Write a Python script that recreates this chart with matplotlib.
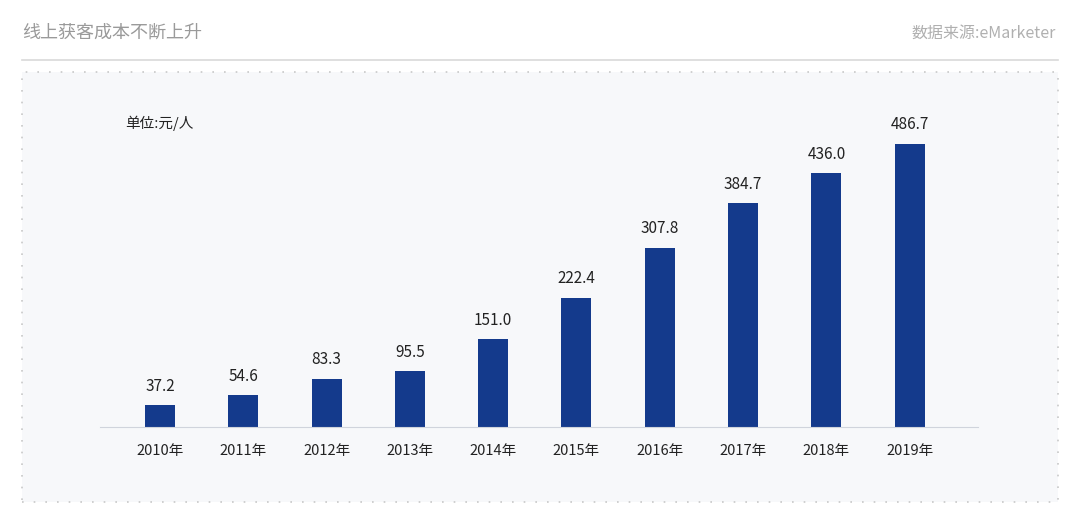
import matplotlib.pyplot as plt
from matplotlib.patches import Rectangle

plt.rcParams["font.family"] = ["Noto Sans CJK SC", "Noto Sans CJK JP",
                               "Noto Sans CJK TC", "DejaVu Sans"]

years = ["2010年", "2011年", "2012年", "2013年", "2014年",
         "2015年", "2016年", "2017年", "2018年", "2019年"]
cost = [37.2, 54.6, 83.3, 95.5, 151.0, 222.4, 307.8, 384.7, 436.0, 486.7]

W, H = 1080, 532
fig = plt.figure(figsize=(W / 100, H / 100), dpi=100)
fig.patch.set_facecolor("white")

# panel background with dotted border
panel = Rectangle((22 / W, 1 - 502 / H), (1058 - 22) / W, (502 - 72) / H,
                  transform=fig.transFigure, facecolor="#f7f8fa",
                  edgecolor="#c8c8c8", linestyle=(0, (1, 6)), linewidth=1.2,
                  zorder=0)
fig.patches.append(panel)
fig.add_artist(plt.Line2D([22 / W, 1058 / W], [1 - 60 / H, 1 - 60 / H],
                          color="#d9d9d9", linewidth=1.2))

fig.text(22 / W, 1 - 33 / H, "线上获客成本不断上升", fontsize=13,
         color="#9a9a9a", va="center", ha="left")
fig.text(1056 / W, 1 - 33 / H, "数据来源:eMarketer", fontsize=11.5,
         color="#b0b0b0", va="center", ha="right")
fig.text(125 / W, 1 - 123 / H, "单位:元/人", fontsize=10.5,
         color="#222222", va="center", ha="left")

ax = fig.add_axes([100 / W, 1 - 427 / H, (978 - 100) / W, (427 - 100) / H])
ax.set_zorder(3)
ax.set_facecolor("none")
x = list(range(len(years)))
ax.bar(x, cost, width=0.36, color="#143a8c")
for xi, v in zip(x, cost):
    ax.text(xi, v + 18, f"{v:.1f}", ha="center", va="bottom",
            fontsize=11, color="#222222")
ax.set_xlim(-0.72, 9.82)
ax.set_ylim(0, 562)
ax.set_xticks(x)
ax.set_xticklabels(years, fontsize=10.5, color="#222222")
ax.tick_params(axis="x", length=0, pad=12)
ax.set_yticks([])
for s in ["top", "right", "left"]:
    ax.spines[s].set_visible(False)
ax.spines["bottom"].set_color("#d0d4dc")

fig.savefig("out.png", dpi=100)
